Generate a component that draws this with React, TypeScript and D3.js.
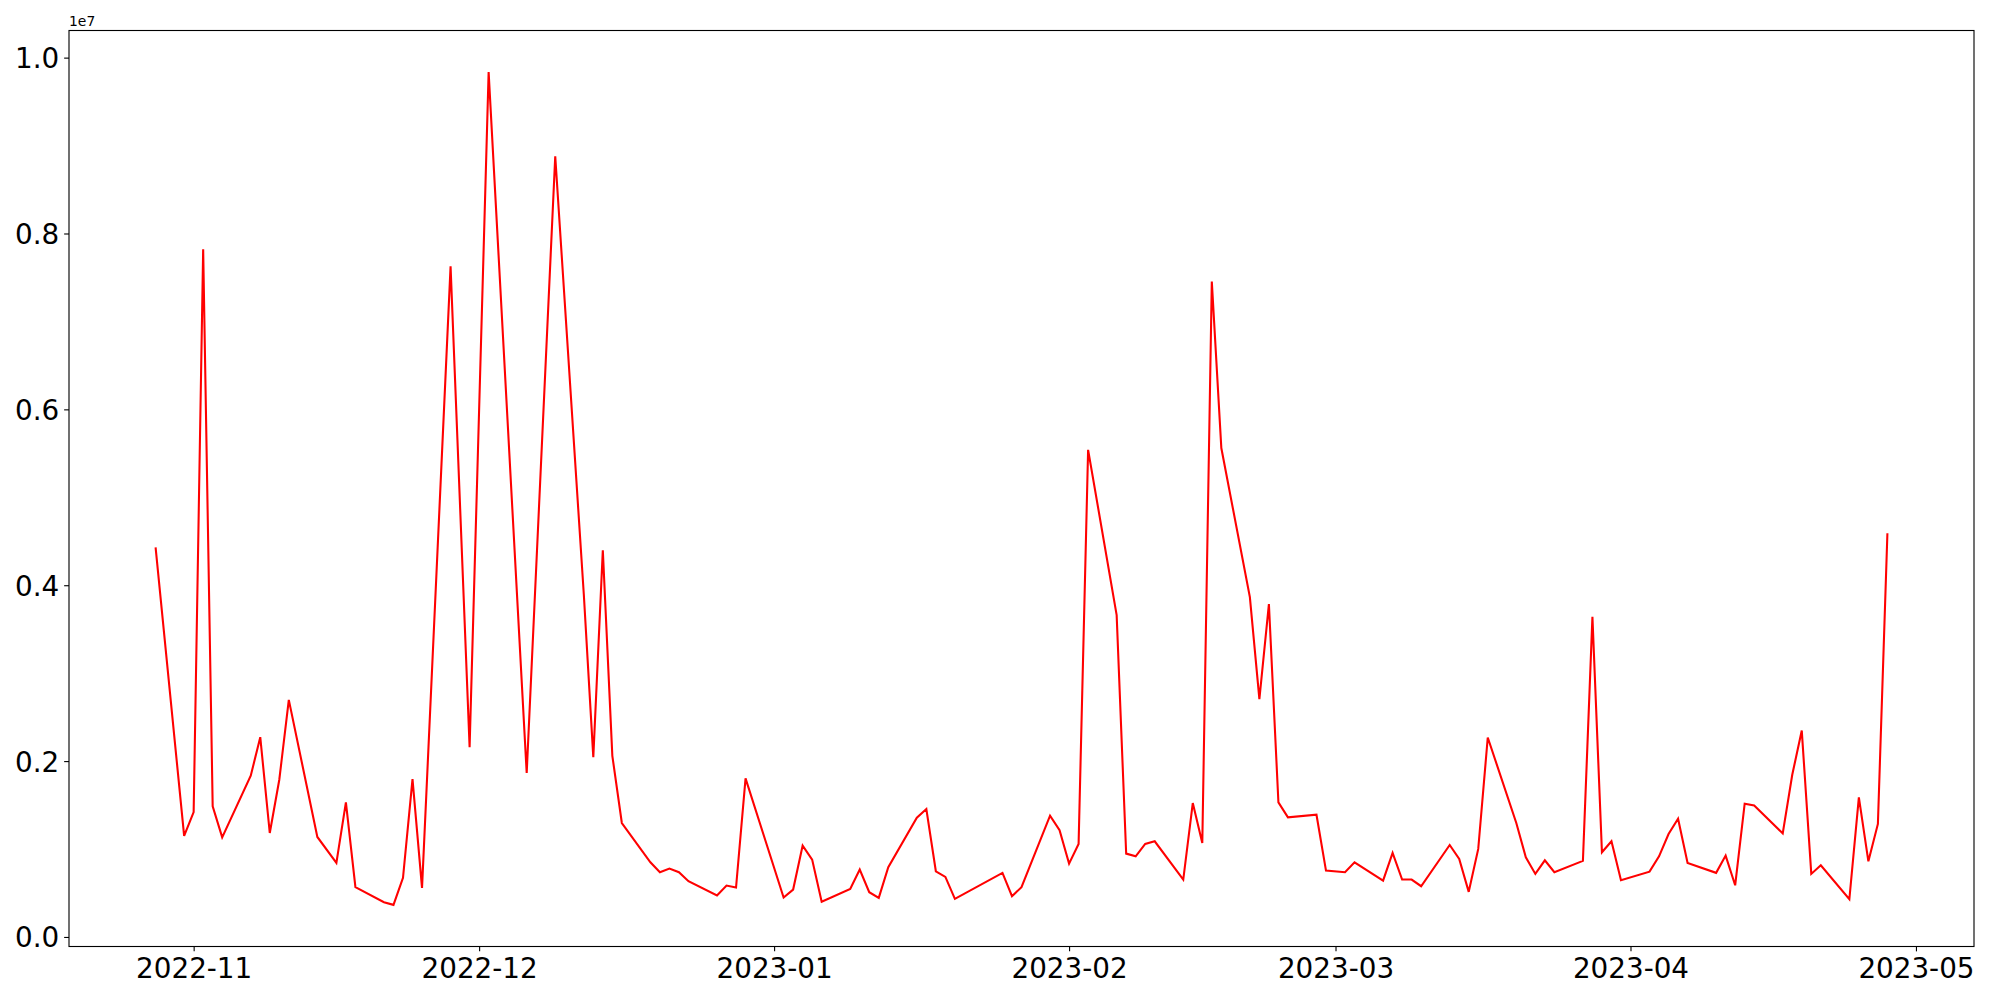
import React, { useEffect, useRef } from 'react';
import * as d3 from 'd3';

// daily values
const dates = [
  '2022-10-28', '2022-10-31', '2022-11-01', '2022-11-02', '2022-11-03', '2022-11-04',
  '2022-11-07', '2022-11-08', '2022-11-09', '2022-11-10', '2022-11-11',
  '2022-11-14', '2022-11-16', '2022-11-17', '2022-11-18',
  '2022-11-21', '2022-11-22', '2022-11-23', '2022-11-24', '2022-11-25',
  '2022-11-28', '2022-11-30', '2022-12-02',
  '2022-12-06', '2022-12-09',
  '2022-12-12', '2022-12-13', '2022-12-14', '2022-12-15', '2022-12-16',
  '2022-12-19', '2022-12-20', '2022-12-21', '2022-12-22', '2022-12-23',
  '2022-12-26', '2022-12-27', '2022-12-28', '2022-12-29',
  '2023-01-02', '2023-01-03', '2023-01-04', '2023-01-05', '2023-01-06',
  '2023-01-09', '2023-01-10', '2023-01-11', '2023-01-12', '2023-01-13',
  '2023-01-16', '2023-01-17', '2023-01-18', '2023-01-19', '2023-01-20',
  '2023-01-25', '2023-01-26', '2023-01-27',
  '2023-01-30', '2023-01-31', '2023-02-01', '2023-02-02', '2023-02-03',
  '2023-02-06', '2023-02-07', '2023-02-08', '2023-02-09', '2023-02-10',
  '2023-02-13', '2023-02-14', '2023-02-15', '2023-02-16', '2023-02-17',
  '2023-02-20', '2023-02-21', '2023-02-22', '2023-02-23', '2023-02-24',
  '2023-02-27', '2023-02-28', '2023-03-02', '2023-03-03',
  '2023-03-06', '2023-03-07', '2023-03-08', '2023-03-09', '2023-03-10',
  '2023-03-13', '2023-03-14', '2023-03-15', '2023-03-16', '2023-03-17',
  '2023-03-20', '2023-03-21', '2023-03-22', '2023-03-23', '2023-03-24',
  '2023-03-27', '2023-03-28', '2023-03-29', '2023-03-30', '2023-03-31',
  '2023-04-03', '2023-04-04', '2023-04-05', '2023-04-06', '2023-04-07',
  '2023-04-10', '2023-04-11', '2023-04-12', '2023-04-13', '2023-04-14',
  '2023-04-17', '2023-04-18', '2023-04-19', '2023-04-20', '2023-04-21',
  '2023-04-24', '2023-04-25', '2023-04-26', '2023-04-27', '2023-04-28',
];

const values = [
  4430000, 1150000, 1420000, 7820000, 1485000, 1133000,
  1833000, 2272000, 1182000, 1788000, 2696000,
  1137000, 842000, 1530000, 566000,
  395000, 365000, 672000, 1795000, 558000,
  7626000, 2159000, 9835000,
  1864000, 8878000,
  3900000, 2045000, 4398000, 2060000, 1296000,
  849000, 736000, 778000, 736000, 634000,
  471000, 585000, 562000, 1803000,
  448000, 539000, 1039000, 880000, 400000,
  547000, 766000, 509000, 445000, 793000,
  1356000, 1455000, 747000, 683000, 433000,
  729000, 463000, 566000,
  1379000, 1213000, 834000, 1058000, 5540000,
  3660000, 948000, 917000, 1058000, 1088000,
  653000, 1523000, 1069000, 7454000, 5560000,
  3865000, 2704000, 3785000, 1530000, 1360000,
  1390000, 755000, 736000, 849000,
  641000, 956000, 653000, 653000, 577000,
  1046000, 887000, 513000, 1001000, 2268000,
  1296000, 906000, 717000, 872000, 736000,
  865000, 3641000, 963000, 1088000, 645000,
  743000, 917000, 1171000, 1345000, 842000,
  729000, 925000, 588000, 1515000, 1496000,
  1178000, 1845000, 2347000, 717000, 815000,
  429000, 1587000, 860000, 1285000, 4591000,
];

const yTicks = [0, 2000000, 4000000, 6000000, 8000000, 10000000];

export default function App() {
  const ref = useRef<SVGSVGElement>(null);

  useEffect(() => {
    const svg = d3.select(ref.current);
    svg.selectAll('*').remove();

    const width = 2000;
    const height = 1000;
    const margin = { top: 30.5, right: 26, bottom: 53.5, left: 69 };
    const font = 'DejaVu Sans, sans-serif';

    const parse = d3.utcParse('%Y-%m-%d');
    const data = dates.map((d, i) => ({ date: parse(d) as Date, value: values[i] }));

    // matplotlib style 5% padding
    const [t0, t1] = d3.extent(data, (d) => +d.date) as [number, number];
    const tPad = (t1 - t0) * 0.05;
    const [v0, v1] = d3.extent(data, (d) => d.value) as [number, number];
    const vPad = (v1 - v0) * 0.05;

    const x = d3
      .scaleUtc()
      .domain([new Date(t0 - tPad), new Date(t1 + tPad)])
      .range([margin.left, width - margin.right]);

    const y = d3
      .scaleLinear()
      .domain([v0 - vPad, v1 + vPad])
      .range([height - margin.bottom, margin.top]);

    const line = d3
      .line<{ date: Date; value: number }>()
      .x((d) => x(d.date))
      .y((d) => y(d.value));

    svg
      .append('path')
      .datum(data)
      .attr('d', line)
      .style('fill', 'none')
      .style('stroke', '#ff0000')
      .style('stroke-width', 2.08)
      .style('stroke-linejoin', 'miter')
      .style('stroke-linecap', 'butt');

    const xAxis = d3
      .axisBottom(x)
      .ticks(d3.utcMonth.every(1))
      .tickSize(4.86)
      .tickPadding(4.86)
      .tickFormat((d) => d3.utcFormat('%Y-%m')(d as Date));

    const yAxis = d3
      .axisLeft(y)
      .tickValues(yTicks)
      .tickSize(4.86)
      .tickPadding(4.86)
      .tickFormat((d) => ((d as number) / 1e7).toFixed(1));

    const gx = svg
      .append('g')
      .attr('transform', 'translate(0,' + (height - margin.bottom) + ')')
      .call(xAxis);
    gx.select('.domain').remove();
    gx.selectAll('line').attr('stroke', '#000').attr('stroke-width', 1.11);
    gx.selectAll('text')
      .attr('fill', '#000')
      .attr('dy', '0.78em')
      .style('font-family', font)
      .style('font-size', '27.8px');

    const gy = svg
      .append('g')
      .attr('transform', 'translate(' + margin.left + ',0)')
      .call(yAxis);
    gy.select('.domain').remove();
    gy.selectAll('line').attr('stroke', '#000').attr('stroke-width', 1.11);
    gy.selectAll('text')
      .attr('fill', '#000')
      .attr('dy', '0.36em')
      .style('font-family', font)
      .style('font-size', '27.8px');

    // frame
    svg
      .append('rect')
      .attr('x', margin.left)
      .attr('y', margin.top)
      .attr('width', width - margin.left - margin.right)
      .attr('height', height - margin.top - margin.bottom)
      .style('fill', 'none')
      .style('stroke', '#000')
      .style('stroke-width', 1.11);

    // offset text
    svg
      .append('text')
      .attr('x', margin.left)
      .attr('y', margin.top - 4.5)
      .style('font-family', font)
      .style('font-size', '13.9px')
      .style('fill', '#000')
      .text('1e7');
  }, []);

  return (
    <svg
      ref={ref}
      width={2000}
      height={1000}
      style={{ position: 'absolute', left: 0, top: 0, background: '#fff' }}
    />
  );
}
